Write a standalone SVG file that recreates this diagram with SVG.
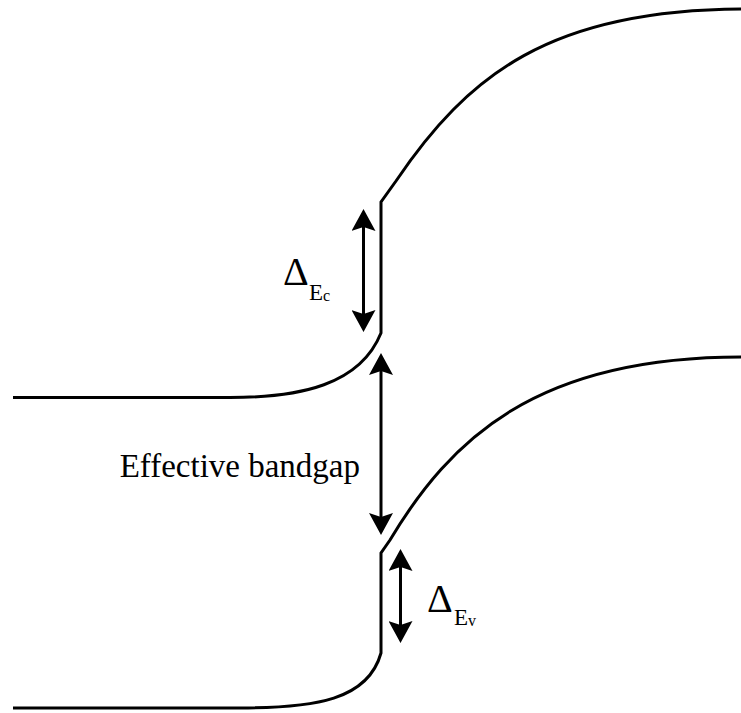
<svg xmlns="http://www.w3.org/2000/svg" width="741" height="713" viewBox="0 0 741 713">
<style>
.band{fill:none;stroke:#000;stroke-width:3;stroke-linejoin:miter}
.arr{fill:none;stroke:#000;stroke-width:3;marker-start:url(#ah);marker-end:url(#ah)}
.t{font-family:'Liberation Serif','Times New Roman',serif;fill:#000}
</style>
<defs>
<marker id="ah" markerUnits="userSpaceOnUse" markerWidth="24" markerHeight="24" viewBox="0 0 22 24" refX="12" refY="12" orient="auto-start-reverse">
<path d="M0,0 L22,12 L0,24 L4,12 Z" fill="#000"/>
</marker>
</defs>
<g id="conduction-band">
<path class="band" d="M13,397.5 L230,397.5 C300,397.5 360,385 381,333 L381,202 L396,181 C468,75 550,10 741,9"/>
</g>
<g id="valence-band">
<path class="band" d="M13,708 L240,708 C315,708 368,700 381,653 L381,553 L390,540 C450,440 535,357 741,357"/>
</g>
<g id="connectors">
<line class="arr" x1="363.5" y1="219" x2="363.5" y2="322"/>
<line class="arr" x1="381" y1="363" x2="381" y2="525"/>
<line class="arr" x1="400.5" y1="559" x2="400.5" y2="633"/>
</g>
<g id="label-dEc">
<text class="t" x="283" y="285" font-size="40">Δ</text>
<text class="t" x="309" y="300" font-size="23">E</text>
<text class="t" x="323" y="301" font-size="16">c</text>
</g>
<g id="label-bandgap">
<text class="t" x="360" y="477" font-size="33" text-anchor="end">Effective bandgap</text>
</g>
<g id="label-dEv">
<text class="t" x="427" y="612" font-size="40">Δ</text>
<text class="t" x="454" y="625" font-size="23">E</text>
<text class="t" x="468" y="626" font-size="16">v</text>
</g>
</svg>
